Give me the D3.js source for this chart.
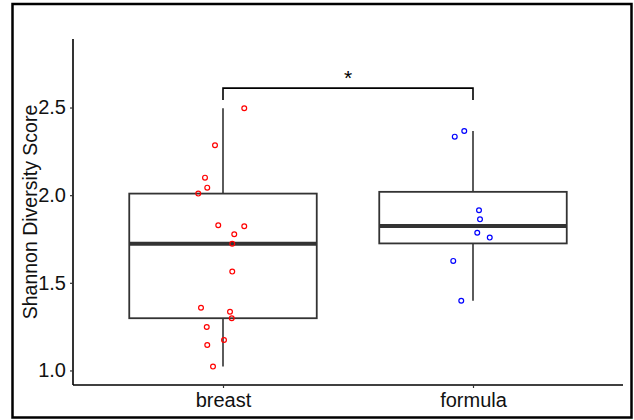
<!DOCTYPE html>
<html>
<head>
<meta charset="utf-8">
<script src="https://cdn.jsdelivr.net/npm/d3@7"></script>
<style>
  body { margin: 0; background: #fff; }
  svg text { font-family: "Liberation Sans", Arial, sans-serif; }
</style>
</head>
<body>
<div id="chart"></div>
<script>
const groups = ["breast", "formula"];
const groupColors = ["#ff0000", "#0000ff"];

const breastScores = [2.496, 2.285, 2.10, 2.043, 2.009, 1.828, 1.823, 1.777, 1.723,
                      1.564, 1.358, 1.335, 1.298, 1.248, 1.174, 1.145, 1.022];
const breastJitter = [0.085, -0.032, -0.072, -0.063, -0.099, -0.019, 0.085, 0.045, 0.037,
                      0.037, -0.088, 0.028, 0.035, -0.065, 0.004, -0.063, -0.04];

const formulaScores = [2.366, 2.334, 1.914, 1.862, 1.786, 1.758, 1.625, 1.398];
const formulaJitter = [-0.035, -0.073, 0.024, 0.028, 0.017, 0.067, -0.079, -0.047];

const yTicks = [1.0, 1.5, 2.0, 2.5];

// significance bracket
const bracketTop = 2.611;
const bracketEnd = 2.543;
const bracketLabel = "*";

const width = 634, height = 420;
const plot = { left: 73, right: 623, top: 39, bottom: 385 };

const svg = d3.select("#chart").append("svg")
    .attr("width", width)
    .attr("height", height);

// outer frame
svg.append("rect")
    .attr("x", 12.5).attr("y", 4)
    .attr("width", 619).attr("height", 413.5)
    .attr("fill", "none")
    .attr("stroke", "#000")
    .attr("stroke-width", 2.5);

const x = d3.scaleLinear().domain([0.4, 2.6]).range([plot.left, plot.right]);
const y = d3.scaleLinear().domain([0.917, 2.891]).range([plot.bottom, plot.top]);

const data = [
    { name: groups[0], scores: breastScores, jitter: breastJitter, color: groupColors[0] },
    { name: groups[1], scores: formulaScores, jitter: formulaJitter, color: groupColors[1] }
];

// box stats
data.forEach((g, i) => {
    const s = g.scores.slice().sort(d3.ascending);
    g.pos = i + 1;
    g.q1 = d3.quantile(s, 0.25);
    g.med = d3.quantile(s, 0.5);
    g.q3 = d3.quantile(s, 0.75);
    const iqr = g.q3 - g.q1;
    g.lo = d3.min(s.filter(v => v >= g.q1 - 1.5 * iqr));
    g.hi = d3.max(s.filter(v => v <= g.q3 + 1.5 * iqr));
});

const boxW = 0.375;
const lineCol = "#333";

const box = svg.append("g").selectAll("g")
    .data(data)
    .enter()
    .append("g");

// whiskers
box.append("line")
    .attr("x1", d => x(d.pos)).attr("x2", d => x(d.pos))
    .attr("y1", d => y(d.q3)).attr("y2", d => y(d.hi))
    .attr("stroke", lineCol).attr("stroke-width", 1.6);
box.append("line")
    .attr("x1", d => x(d.pos)).attr("x2", d => x(d.pos))
    .attr("y1", d => y(d.q1)).attr("y2", d => y(d.lo))
    .attr("stroke", lineCol).attr("stroke-width", 1.6);

// box
box.append("rect")
    .attr("x", d => x(d.pos - boxW))
    .attr("y", d => y(d.q3))
    .attr("width", d => x(d.pos + boxW) - x(d.pos - boxW))
    .attr("height", d => y(d.q1) - y(d.q3))
    .attr("fill", "#fff")
    .attr("stroke", lineCol)
    .attr("stroke-width", 1.8);

// median
box.append("line")
    .attr("x1", d => x(d.pos - boxW)).attr("x2", d => x(d.pos + boxW))
    .attr("y1", d => y(d.med)).attr("y2", d => y(d.med))
    .attr("stroke", lineCol).attr("stroke-width", 4);

// jittered points
data.forEach(g => {
    svg.append("g").selectAll("circle")
        .data(g.scores.map((v, i) => ({ v, j: g.jitter[i] })))
        .enter()
        .append("circle")
        .attr("cx", d => x(g.pos + d.j))
        .attr("cy", d => y(d.v))
        .attr("r", 2.4)
        .attr("fill", "none")
        .attr("stroke", g.color)
        .attr("stroke-width", 1.2);
});

// significance bracket
svg.append("path")
    .attr("d", `M${x(1)},${y(bracketEnd)}V${y(bracketTop)}H${x(2)}V${y(bracketEnd)}`)
    .attr("fill", "none")
    .attr("stroke", "#000")
    .attr("stroke-width", 1.6);
svg.append("text")
    .attr("x", (x(1) + x(2)) / 2)
    .attr("y", y(bracketTop) - 3)
    .attr("text-anchor", "middle")
    .attr("font-size", "21px")
    .text(bracketLabel);

// axes
const yAxis = svg.append("g")
    .attr("transform", `translate(${plot.left},0)`)
    .call(d3.axisLeft(y).tickValues(yTicks).tickFormat(d3.format(".1f")).tickSize(3).tickPadding(4));
yAxis.select(".domain").attr("d", `M0,${plot.top}V${plot.bottom}`);

const xAxis = svg.append("g")
    .attr("transform", `translate(0,${plot.bottom})`)
    .call(d3.axisBottom(x).tickValues([1, 2]).tickFormat(d => groups[d - 1]).tickSize(3).tickPadding(5));
xAxis.select(".domain").attr("d", `M${plot.left},0H${plot.right}`);

[xAxis, yAxis].forEach(a => {
    a.select(".domain").attr("stroke", "#000").attr("stroke-width", 1.6);
    a.selectAll(".tick line").attr("stroke", "#333").attr("stroke-width", 1.2);
    a.selectAll(".tick text")
        .attr("fill", "#111")
        .attr("font-size", "20px")
        .style("font-family", "'Liberation Sans Narrow', 'Liberation Sans', sans-serif");
});

// y axis title
svg.append("text")
    .attr("transform", `translate(37,${(plot.top + plot.bottom) / 2}) rotate(-90)`)
    .attr("text-anchor", "middle")
    .attr("font-size", "19.5px")
    .attr("fill", "#111")
    .text("Shannon Diversity Score");
</script>
</body>
</html>
